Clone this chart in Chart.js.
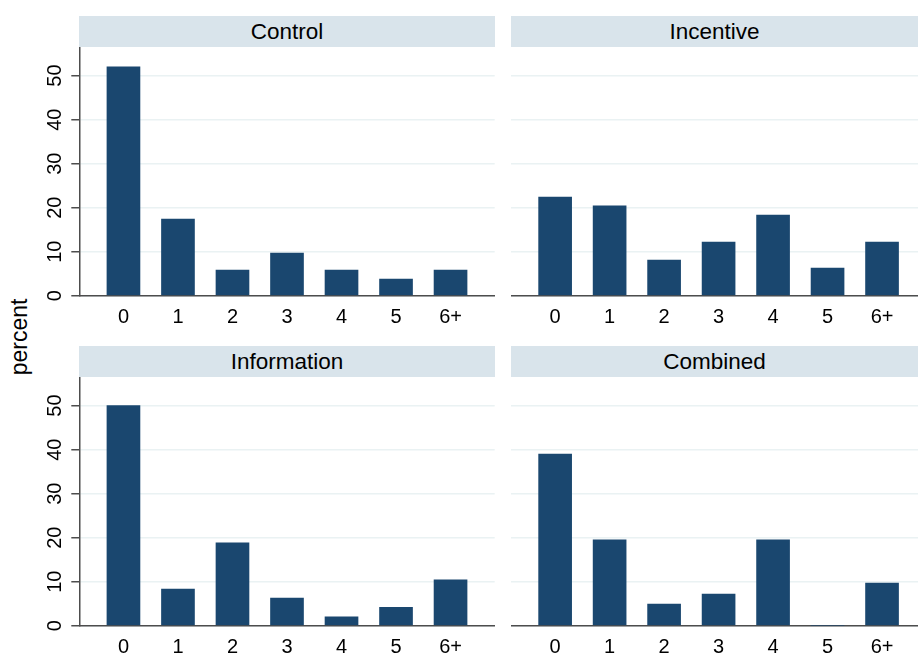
<!DOCTYPE html>
<html>
<head>
<meta charset="utf-8">
<title>percent by group</title>
<script src="https://cdn.jsdelivr.net/npm/chart.js@4.4.0/dist/chart.umd.min.js"></script>
<style>
  html, body { margin: 0; padding: 0; background: #ffffff; overflow: hidden; }
  body { width: 918px; height: 654px; position: relative; font-family: 'Liberation Sans', Arial, sans-serif; }
  .strip {
    position: absolute; height: 31px; background: #d9e4eb;
    font-size: 22.5px; line-height: 31px; text-align: center; color: #000;
  }
  .panel { position: absolute; }
  #ylab {
    position: absolute; left: 19px; top: 337px; font-size: 23px; color: #000;
    transform: translate(-50%, -50%) rotate(-90deg); white-space: nowrap;
  }
</style>
</head>
<body>
<div class="strip" style="left:79px;top:16px;width:416px">Control</div>
<div class="strip" style="left:511px;top:16px;width:407px">Incentive</div>
<div class="strip" style="left:79px;top:346px;width:416px">Information</div>
<div class="strip" style="left:511px;top:346px;width:407px">Combined</div>
<div id="ylab">percent</div>

<div class="panel" style="left:0;top:47px;width:500px;height:290px"><canvas id="c1"></canvas></div>
<div class="panel" style="left:511px;top:47px;width:407px;height:290px"><canvas id="c2"></canvas></div>
<div class="panel" style="left:0;top:377px;width:500px;height:290px"><canvas id="c3"></canvas></div>
<div class="panel" style="left:511px;top:377px;width:407px;height:290px"><canvas id="c4"></canvas></div>

<script>
// number of events (x categories)
const categories = ['0', '1', '2', '3', '4', '5', '6+'];
const yTicks = [0, 10, 20, 30, 40, 50];

// percent per group
const control     = [52.0, 17.4, 5.8, 9.7, 5.8, 3.8, 5.8];
const incentive   = [22.4, 20.4, 8.1, 12.2, 18.3, 6.3, 12.2];
const information = [50.0, 8.3, 18.8, 6.3, 2.0, 4.2, 10.4];
const combined    = [39.0, 19.5, 4.9, 7.2, 19.5, 0, 9.7];

const BAR = '#1a476f';
const GRID = '#eaf2f3';
const AXIS = '#4d4d4d';
const FONT = "'Liberation Sans', Arial, sans-serif";

Chart.defaults.font.family = FONT;
Chart.defaults.color = '#000';

function makePanel(id, values, leftSide) {
  const ctx = document.getElementById(id);
  return new Chart(ctx, {
    type: 'bar',
    data: {
      datasets: [{
        data: values.map((v, i) => ({ x: i, y: v })),
        backgroundColor: BAR,
        borderWidth: 0,
        barThickness: 33
      }]
    },
    options: {
      responsive: true,
      maintainAspectRatio: false,
      animation: false,
      layout: { padding: { left: 0, right: leftSide ? 5.3 : 0, top: 0, bottom: 0 } },
      plugins: { legend: { display: false }, tooltip: { enabled: false } },
      scales: {
        x: {
          type: 'linear',
          offset: false,
          min: -0.81,
          max: leftSide ? 6.81 : 6.66,
          afterBuildTicks: s => { s.ticks = categories.map((_, i) => ({ value: i })); },
          afterFit: s => {
            s.height = 41.3;
            s.paddingLeft = 0; s.paddingRight = 0;
          },
          grid: { display: false, drawTicks: false, offset: false },
          border: { display: true, color: AXIS, width: 1.5 },
          ticks: {
            callback: v => categories[v],
            font: { size: 20 },
            padding: 10,
            maxRotation: 0,
            autoSkip: false
          }
        },
        y: {
          min: 0,
          max: 56.5,
          afterBuildTicks: s => { s.ticks = yTicks.map(v => ({ value: v })); },
          afterFit: s => {
            s.width = leftSide ? 79.3 : 0;
            s.paddingTop = 0; s.paddingBottom = 0;
          },
          grid: {
            color: GRID,
            lineWidth: 1.5,
            drawTicks: leftSide,
            tickLength: 8,
            tickColor: AXIS,
            tickWidth: 1.5
          },
          border: { display: leftSide, color: AXIS, width: 1.5 },
          ticks: {
            display: leftSide,
            font: { size: 20 },
            minRotation: 90,
            maxRotation: 90,
            crossAlign: 'center',
            padding: 5
          }
        }
      }
    }
  });
}

makePanel('c1', control, true);
makePanel('c2', incentive, false);
makePanel('c3', information, true);
makePanel('c4', combined, false);
</script>
</body>
</html>
